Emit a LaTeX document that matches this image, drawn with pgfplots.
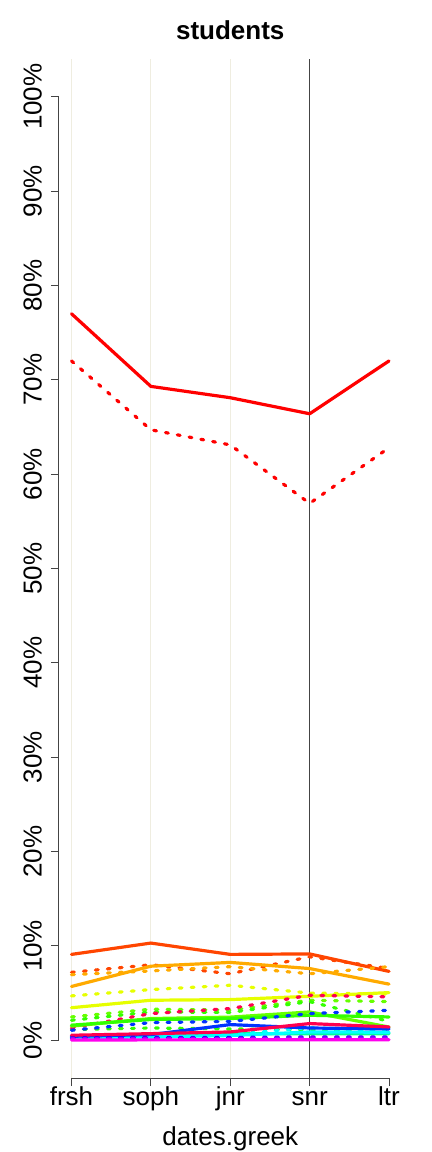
\documentclass[border=0pt]{standalone}
\usepackage{pgfplots}
\pgfplotsset{compat=1.18}
\usepackage{fontspec}
\setmainfont{Liberation Sans}

\definecolor{cRed}{HTML}{FF0000}
\definecolor{cOrRed}{HTML}{FF4500}
\definecolor{cOrange}{HTML}{FFAA00}
\definecolor{cYellow}{HTML}{E6FF00}
\definecolor{cLime}{HTML}{66FF00}
\definecolor{cGreen}{HTML}{33FF00}
\definecolor{cSpring}{HTML}{00FF99}
\definecolor{cCyan}{HTML}{00FFFF}
\definecolor{cBlue}{HTML}{0033FF}
\definecolor{cNavy}{HTML}{2200FF}
\definecolor{cViolet}{HTML}{9900FF}
\definecolor{cMagenta}{HTML}{FF00EE}
\definecolor{cCrimson}{HTML}{FF0050}
\definecolor{gridc}{HTML}{EFEDE0}
\definecolor{axc}{HTML}{444444}

\tikzset{
  sol/.style={line width=1.6pt, line cap=round, line join=round},
  dot/.style={line width=1.6pt, line cap=round, dash pattern=on 1.4pt off 4.6pt},
}

\begin{document}
\begin{tikzpicture}
\begin{axis}[
  at={(0,0)}, anchor=south west,
  scale only axis, width=171.45pt, height=509.5pt,
  xmin=0.84, xmax=5.16, ymin=-4, ymax=104,
  clip=false,
  axis x line*=bottom, axis y line*=left,
  axis line style={draw=none},
  xtick={1,2,3,4,5}, xticklabels={frsh,soph,jnr,snr,ltr},
  ytick={0,10,20,30,40,50,60,70,80,90,100},
  yticklabels={0\%,10\%,20\%,30\%,40\%,50\%,60\%,70\%,80\%,90\%,100\%},
  tick align=outside, major tick length=4pt,
  tick style={color=axc, line width=0.5pt},
  xticklabel style={font=\fontsize{13}{15}\selectfont, anchor=base, yshift=-9.8pt},
  yticklabel style={font=\fontsize{13}{15}\selectfont, xshift=-4.6pt, rotate=90, anchor=base},
  title={students},
  title style={at={(axis description cs:0.5,1)}, anchor=base, yshift=3.8pt, font=\fontsize{13}{15}\selectfont\bfseries},
  xlabel={dates.greek},
  x label style={at={(axis description cs:0.5,0)}, anchor=base, yshift=-33.5pt, font=\fontsize{13}{15}\selectfont},
]
% grid lines
\draw[gridc, line width=0.6pt] (axis cs:1,-4) -- (axis cs:1,104);
\draw[gridc, line width=0.6pt] (axis cs:2,-4) -- (axis cs:2,104);
\draw[gridc, line width=0.6pt] (axis cs:3,-4) -- (axis cs:3,104);
\draw[axc, line width=0.6pt] (axis cs:4,-4) -- (axis cs:4,104);
% axis lines (R style)
\draw[axc, line width=0.5pt] (axis cs:0.84,0) -- (axis cs:0.84,100);
\draw[axc, line width=0.5pt] (axis cs:1,-4) -- (axis cs:5,-4);

% series
\addplot[sol, cRed] coordinates {(1,77.0) (2,69.3) (3,68.1) (4,66.4) (5,72.0)};
\addplot[dot, cRed] coordinates {(1,72.0) (2,64.7) (3,63.1) (4,56.9) (5,62.8)};
\addplot[sol, cOrRed] coordinates {(1,9.1) (2,10.3) (3,9.1) (4,9.15) (5,7.3)};
\addplot[dot, cOrRed] coordinates {(1,7.2) (2,8.0) (3,7.05) (4,8.85) (5,7.6)};
\addplot[sol, cOrange] coordinates {(1,5.7) (2,7.85) (3,8.25) (4,7.6) (5,5.95)};
\addplot[dot, cOrange] coordinates {(1,6.95) (2,7.35) (3,7.8) (4,7.05) (5,7.8)};
\addplot[sol, cYellow] coordinates {(1,3.45) (2,4.24) (3,4.31) (4,4.66) (5,5.05)};
\addplot[dot, cYellow] coordinates {(1,4.7) (2,5.37) (3,5.83) (4,5.0) (5,4.9)};
\addplot[dot, cLime] coordinates {(1,2.47) (2,3.29) (3,3.2) (4,4.24) (5,4.1)};
\addplot[dot, cGreen] coordinates {(1,2.12) (2,3.0) (3,2.95) (4,4.1) (5,2.0)};
\addplot[dot, cGreen] coordinates {(1,1.13) (2,1.3) (3,1.2) (4,1.1) (5,0.9)};
\addplot[dot, cCrimson] coordinates {(1,1.3) (2,2.83) (3,3.36) (4,4.77) (5,4.6)};
\addplot[sol, cLime] coordinates {(1,1.5) (2,2.3) (3,2.45) (4,3.0) (5,1.4)};
\addplot[sol, cGreen] coordinates {(1,1.6) (2,2.2) (3,2.3) (4,2.65) (5,2.47)};
\addplot[dot, cBlue] coordinates {(1,1.06) (2,1.87) (3,2.0) (4,2.83) (5,3.18)};
\addplot[sol, cSpring] coordinates {(1,0.35) (2,0.45) (3,0.7) (4,0.7) (5,0.7)};
\addplot[sol, cCyan] coordinates {(1,0.28) (2,0.35) (3,0.5) (4,0.88) (5,0.85)};
\addplot[dot, cCyan] coordinates {(1,0.3) (2,0.4) (3,0.6) (4,1.35) (5,0.9)};
\addplot[sol, cBlue] coordinates {(1,0.42) (2,0.6) (3,1.66) (4,1.3) (5,1.2)};
\addplot[sol, cCrimson] coordinates {(1,0.53) (2,0.7) (3,0.88) (4,1.77) (5,1.41)};
\addplot[dot, cNavy] coordinates {(1,0.25) (2,0.3) (3,0.3) (4,0.35) (5,0.35)};
\addplot[dot, cViolet] coordinates {(1,0.15) (2,0.2) (3,0.2) (4,0.25) (5,0.25)};
\addplot[sol, cMagenta] coordinates {(1,0.03) (2,0.04) (3,0.05) (4,0.06) (5,0.05)};
\end{axis}
\pgfresetboundingbox
\useasboundingbox (-29.4pt,-37pt) rectangle (186.6pt,539pt);
\end{tikzpicture}
\end{document}
